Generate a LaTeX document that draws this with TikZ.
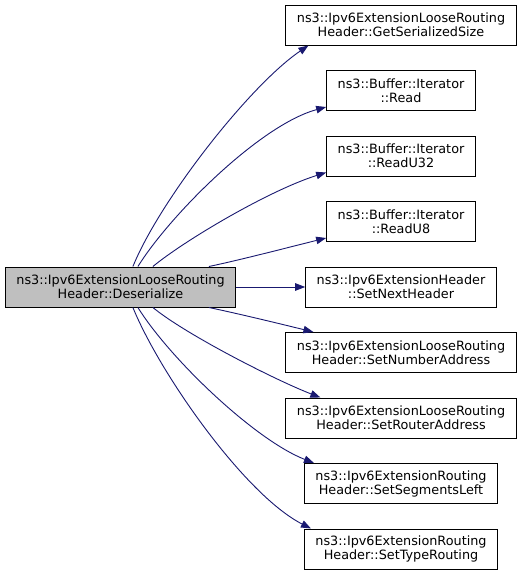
\documentclass[tikz,border=0pt]{standalone}
\usepackage{fontspec}
\setmainfont{DejaVu Sans}
\usetikzlibrary{calc,arrows.meta}
\definecolor{edgeblue}{HTML}{191970}
\definecolor{maingray}{HTML}{BFBFBF}
\tikzset{
  fn/.style={draw=black, line width=1pt, rectangle, align=center, minimum height=40pt,
    inner xsep=11pt, inner ysep=0pt, font=\fontsize{12.8}{14}\selectfont, fill=white},
  mainfn/.style={fn, fill=maingray},
  call/.style={draw=edgeblue, line width=0.9pt, -{Triangle[length=10pt,width=7.5pt]}}
}
\begin{document}
\begin{tikzpicture}[x=1pt,y=-1pt]
\useasboundingbox (0,0) rectangle (523,573);
\node[mainfn] (main) at (120.5,287) {ns3::Ipv6ExtensionLooseRouting\\Header::Deserialize};
\node[fn] (gss) at (401,25) {ns3::Ipv6ExtensionLooseRouting\\Header::GetSerializedSize};
\node[fn] (read) at (401,90.5) {ns3::Buffer::Iterator\\::Read};
\node[fn] (ru32) at (401,156) {ns3::Buffer::Iterator\\::ReadU32};
\node[fn] (ru8) at (401,221.5) {ns3::Buffer::Iterator\\::ReadU8};
\node[fn] (snh) at (401,287) {ns3::Ipv6ExtensionHeader\\::SetNextHeader};
\node[fn] (sna) at (401,352.5) {ns3::Ipv6ExtensionLooseRouting\\Header::SetNumberAddress};
\node[fn] (sra) at (401,418) {ns3::Ipv6ExtensionLooseRouting\\Header::SetRouterAddress};
\node[fn] (ssl) at (401,483.5) {ns3::Ipv6ExtensionRouting\\Header::SetSegmentsLeft};
\node[fn] (str) at (401,549) {ns3::Ipv6ExtensionRouting\\Header::SetTypeRouting};

\draw[call] ($(main.north west)+(128,0)$) .. controls (160,200) and (250,85) .. ($(gss.south west)+(23,0)$);
\draw[call] ($(main.north west)+(133,0)$) .. controls (170,215) and (260,125) .. ($(read.south west)+(0,-4)$);
\draw[call] ($(main.north west)+(148,0)$) .. controls (185,240) and (270,190) .. ($(ru32.south west)+(0,-4)$);
\draw[call] ($(main.north west)+(204,0)$) .. controls (240,260) and (290,247) .. ($(ru8.south west)+(0,-4)$);
\draw[call] (main.east) -- (snh.west);
\draw[call] ($(main.south west)+(204,0)$) .. controls (240,314) and (285,325) .. ($(sna.north west)+(28,0)$);
\draw[call] ($(main.south west)+(148,0)$) .. controls (185,334) and (275,380) .. ($(sra.north west)+(35,0)$);
\draw[call] ($(main.south west)+(133,0)$) .. controls (170,359) and (255,440) .. ($(ssl.north west)+(10,0)$);
\draw[call] ($(main.south west)+(128,0)$) .. controls (160,374) and (245,495) .. ($(str.north west)+(7,0)$);
\end{tikzpicture}
\end{document}
